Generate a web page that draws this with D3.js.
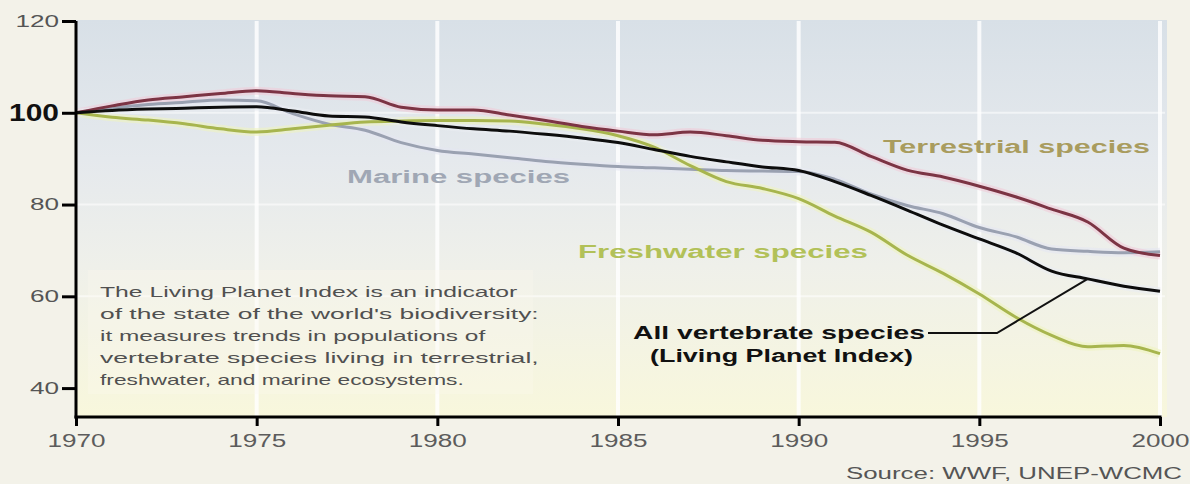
<!DOCTYPE html>
<html>
<head>
<meta charset="utf-8">
<script src="https://cdn.jsdelivr.net/npm/d3@7"></script>
<style>
	body { margin: 0; background: #f3f2e9; }
	svg { display: block; font-family: "Liberation Sans", Arial, sans-serif; }
</style>
</head>
<body>
<svg id="chart" width="1190" height="484"></svg>
<script>
const YEARS = d3.range(1970, 2001);
const TERRESTRIAL = [100, 101.5, 102.8, 103.5, 104.2, 104.8, 104.2, 103.7, 103.5, 101.2, 100.6, 100.6, 99.5, 98.3, 97, 96, 95.2, 95.8, 95, 94, 93.7, 93.6, 90.5, 87.5, 86, 84, 81.7, 79, 76.2, 70.5, 68.9];
const MARINE = [100, 101, 101.8, 102.3, 102.8, 102.6, 99.8, 97.5, 96.2, 93.5, 91.8, 91, 90.2, 89.4, 88.8, 88.3, 88, 87.7, 87.4, 87.3, 87.2, 85.5, 82.3, 79.8, 78, 75, 73, 70.3, 69.8, 69.5, 69.7];
const FRESHWATER = [100, 99, 98.4, 97.6, 96.5, 95.8, 96.5, 97.3, 98, 98.2, 98.3, 98.3, 98.2, 97.5, 96.5, 95, 92.5, 88.5, 85, 83.5, 81.3, 77.5, 74, 69, 65, 60.5, 55.5, 51.5, 49, 49.3, 47.5];
const ALL_SPECIES = [100, 100.5, 100.8, 101, 101.2, 101.3, 100.4, 99.3, 99.1, 98, 97.2, 96.5, 96, 95.3, 94.5, 93.5, 92, 90.5, 89.3, 88.2, 87.4, 85, 82, 78.8, 75.5, 72.5, 69.5, 65.5, 63.8, 62.2, 61.1];
const X_TICKS = [1970, 1975, 1980, 1985, 1990, 1995, 2000];
const Y_TICKS = [40, 60, 80, 100, 120];
const NOTE_LINES = [
	"The Living Planet Index is an indicator",
	"of the state of the world's biodiversity:",
	"it measures trends in populations of",
	"vertebrate species living in terrestrial,",
	"freshwater, and marine ecosystems."
];

const svg = d3.select("#chart");

const x = d3.scaleLinear().domain([1970, 2000]).range([76, 1160]);
const y = d3.scaleLinear().domain([33.7, 120]).range([417, 21]);

// background gradient of the plot area
const defs = svg.append("defs");
const grad = defs.append("linearGradient")
	.attr("id", "bg")
	.attr("x1", 0).attr("y1", 0).attr("x2", 0).attr("y2", 1);
grad.append("stop").attr("offset", "0%").attr("stop-color", "#d8e0e7");
grad.append("stop").attr("offset", "35%").attr("stop-color", "#e5e9ed");
grad.append("stop").attr("offset", "62%").attr("stop-color", "#eff0ea");
grad.append("stop").attr("offset", "100%").attr("stop-color", "#f8f7dc");

svg.append("rect")
	.attr("x", x(1970))
	.attr("y", y(120) - 1)
	.attr("width", 1167 - x(1970))
	.attr("height", y.range()[0] - y(120) + 1)
	.attr("fill", "url(#bg)");

// white grid lines
svg.append("g")
	.selectAll("line")
	.data(X_TICKS.slice(1))
	.enter().append("line")
	.attr("x1", (d) => x(d)).attr("x2", (d) => x(d))
	.attr("y1", y(120)).attr("y2", y.range()[0])
	.attr("stroke", "#ffffff")
	.attr("stroke-opacity", 0.8)
	.attr("stroke-width", 4);

svg.append("g")
	.selectAll("line")
	.data([60, 80, 100])
	.enter().append("line")
	.attr("x1", x(1970)).attr("x2", 1165)
	.attr("y1", (d) => y(d)).attr("y2", (d) => y(d))
	.attr("stroke", "#ffffff")
	.attr("stroke-opacity", 0.55)
	.attr("stroke-width", 2);

// note box
svg.append("rect")
	.attr("x", 88).attr("y", 270)
	.attr("width", 445).attr("height", 124)
	.attr("fill", "#fbfaf0")
	.attr("fill-opacity", 0.3);

const stretch = (sel, perChar) => sel.each(function () {
	const t = d3.select(this);
	t.attr("textLength", t.text().length * perChar).attr("lengthAdjust", "spacingAndGlyphs");
});

svg.append("g")
	.selectAll("text")
	.data(NOTE_LINES)
	.enter().append("text")
	.attr("x", 100)
	.attr("y", (d, i) => 297 + i * 22)
	.attr("font-size", 15)
	.attr("fill", "#505050")
	.text((d) => d)
	.call(stretch, 10.7);

// lines
const line = (vals) => d3.line()
	.x((d, i) => x(YEARS[i]))
	.y((d) => y(d))
	.curve(d3.curveMonotoneX)(vals);

const SERIES = [
	{ vals: MARINE, color: "#9aa1b1", halo: "#e4e6f2" },
	{ vals: FRESHWATER, color: "#a7b54e", halo: "#eef3c0" },
	{ vals: TERRESTRIAL, color: "#7c3444", halo: "#f0ccd8" },
	{ vals: ALL_SPECIES, color: "#0d0d0d", halo: "#e9ecf2" }
];

const lines = svg.append("g").attr("fill", "none").attr("stroke-linejoin", "round");
SERIES.forEach((s) => {
	lines.append("path").attr("d", line(s.vals))
		.attr("stroke", s.halo).attr("stroke-width", 8).attr("stroke-opacity", 0.6);
});
SERIES.forEach((s) => {
	lines.append("path").attr("d", line(s.vals))
		.attr("stroke", s.color).attr("stroke-width", 3);
});

// axes
const yAxis = svg.append("g")
	.attr("transform", "translate(" + x(1970) + ",0)")
	.call(d3.axisLeft(y).tickValues(Y_TICKS).tickSize(14).tickPadding(3));
yAxis.select(".domain").remove();
yAxis.selectAll(".tick line").attr("stroke", "#000").attr("stroke-width", 3);
yAxis.selectAll(".tick text")
	.attr("font-size", (d) => d === 100 ? 23 : 16)
	.attr("font-weight", (d) => d === 100 ? "bold" : "normal")
	.attr("fill", (d) => d === 100 ? "#111" : "#555")
	.attr("font-family", "'Liberation Sans', Arial, sans-serif")
	.each(function (d) {
		d3.select(this)
			.attr("textLength", d === 100 ? 50 : String(d).length * 14.5)
			.attr("lengthAdjust", "spacingAndGlyphs");
	});

const xAxis = svg.append("g")
	.attr("transform", "translate(0," + y.range()[0] + ")")
	.call(d3.axisBottom(x).tickValues(X_TICKS).tickFormat(d3.format("d")).tickSize(9).tickPadding(8));
xAxis.select(".domain").remove();
xAxis.selectAll(".tick line").attr("stroke", "#000").attr("stroke-width", 3);
xAxis.selectAll(".tick text")
	.attr("font-size", 18)
	.attr("fill", "#5c5c5c")
	.attr("font-family", "'Liberation Sans', Arial, sans-serif")
	.attr("textLength", 58)
	.attr("lengthAdjust", "spacingAndGlyphs");

svg.append("line")
	.attr("x1", x(1970)).attr("x2", x(1970))
	.attr("y1", y(120)).attr("y2", y.range()[0] + 1.5)
	.attr("stroke", "#000").attr("stroke-width", 3);
svg.append("line")
	.attr("x1", x(1970) - 1.5).attr("x2", x(2000) + 1.5)
	.attr("y1", y.range()[0]).attr("y2", y.range()[0])
	.attr("stroke", "#000").attr("stroke-width", 3);

// series labels
const LABELS = [
	{ text: "Terrestrial species", x: 883, y: 153, w: 267, color: "#a99c5e" },
	{ text: "Marine species", x: 347, y: 183, w: 223, color: "#a0a7b4" },
	{ text: "Freshwater species", x: 578, y: 258, w: 290, color: "#b2c158" },
	{ text: "All vertebrate species", x: 633, y: 339, w: 292, color: "#111111" },
	{ text: "(Living Planet Index)", x: 650, y: 362, w: 263, color: "#111111" }
];
svg.append("g")
	.selectAll("text")
	.data(LABELS)
	.enter().append("text")
	.attr("x", (d) => d.x)
	.attr("y", (d) => d.y)
	.attr("font-size", 18)
	.attr("font-weight", "bold")
	.attr("fill", (d) => d.color)
	.attr("textLength", (d) => d.w)
	.attr("lengthAdjust", "spacingAndGlyphs")
	.text((d) => d.text);

// leader line to the all-species curve
const i98 = YEARS.indexOf(1998);
svg.append("polyline")
	.attr("points", [[928, 333], [997, 333], [x(1998), y(ALL_SPECIES[i98])]].join(" "))
	.attr("fill", "none")
	.attr("stroke", "#111")
	.attr("stroke-width", 2);

svg.append("text")
	.attr("x", 846)
	.attr("y", 479)
	.attr("font-size", 16)
	.attr("fill", "#555")
	.attr("textLength", 336)
	.attr("lengthAdjust", "spacingAndGlyphs")
	.text("Source: WWF, UNEP-WCMC");
</script>
</body>
</html>
